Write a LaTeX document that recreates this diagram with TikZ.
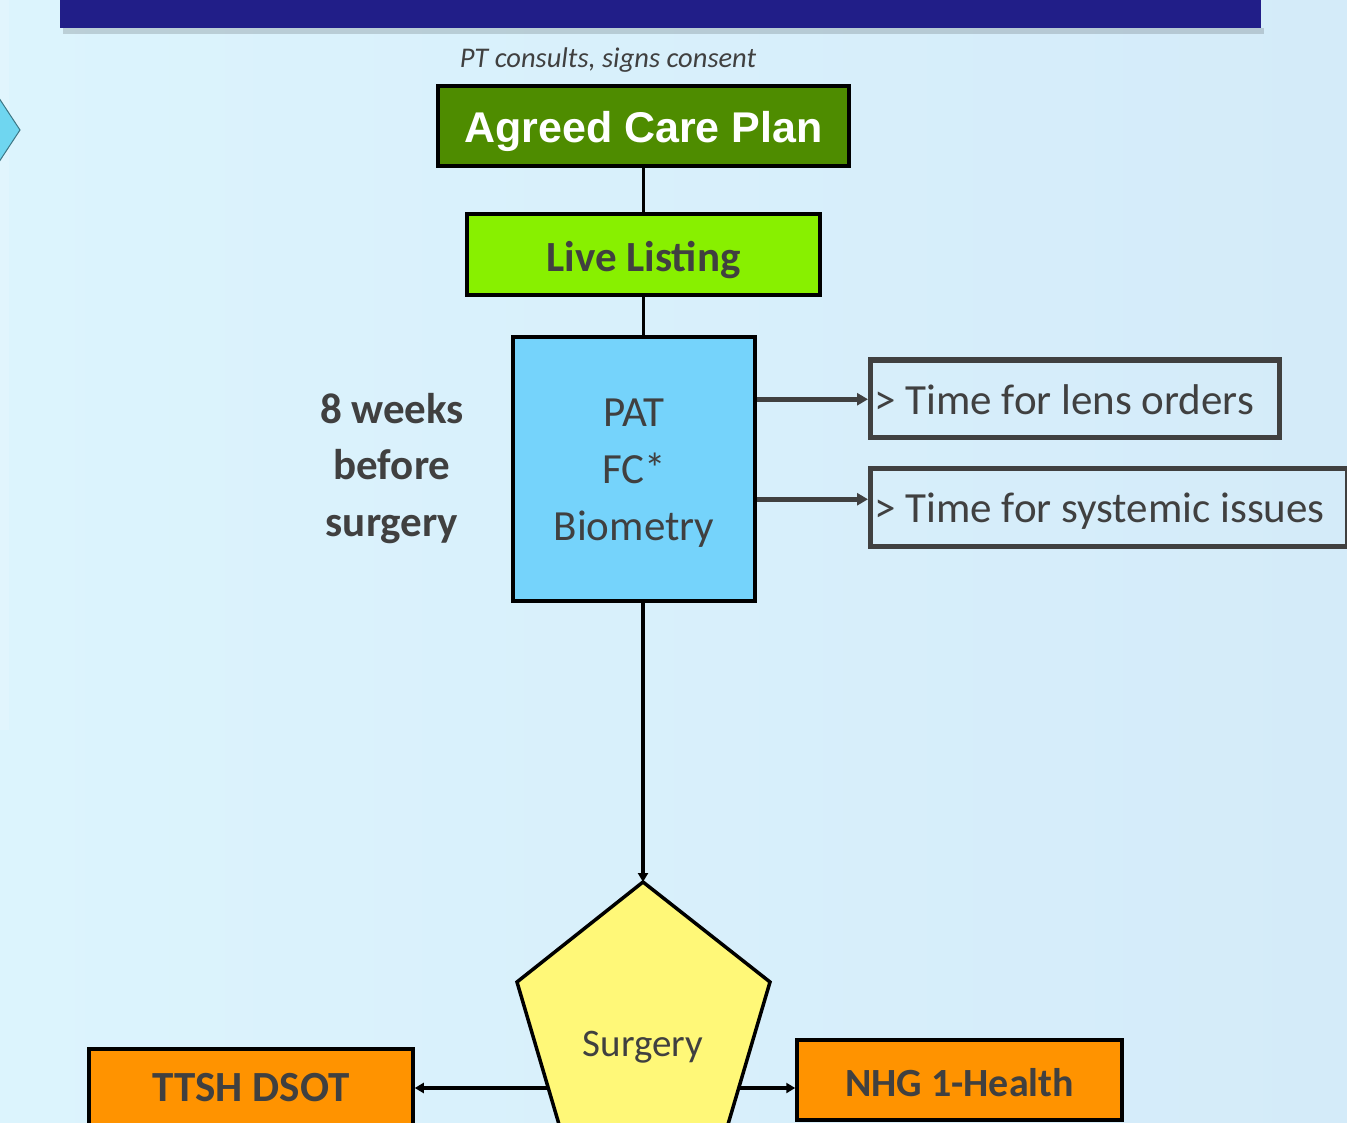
\documentclass[tikz,border=0pt]{standalone}
\usepackage{fontspec}
\setmainfont{Carlito}
\newfontfamily\arialfont{Liberation Sans}
\usetikzlibrary{arrows.meta,calc}
\definecolor{bgl}{HTML}{DCF4FD}
\definecolor{bgr}{HTML}{D4EBF9}
\definecolor{navy}{HTML}{211E88}
\definecolor{dgreen}{HTML}{4E8C00}
\definecolor{lgreen}{HTML}{88F000}
\definecolor{skyb}{HTML}{75D3FB}
\definecolor{yel}{HTML}{FFF878}
\definecolor{orng}{HTML}{FF9300}
\definecolor{txt}{HTML}{404040}
\definecolor{cyanchev}{HTML}{6FD6F0}
\tikzset{
  box/.style={draw=black, line width=3.5pt, inner sep=0pt, text=txt},
  outline/.style={draw=txt, line width=5pt, inner sep=0pt, anchor=west, text=txt,
    font=\fontsize{43}{52}\selectfont, text height=31pt, text depth=0pt},
  lbl/.style={text=txt, inner sep=0pt},
  link/.style={draw=black, line width=3pt},
  blk/.style={draw=black, line width=3.5pt, -{Triangle[length=9pt,width=10pt]}},
  gry/.style={draw=txt, line width=4.5pt, -{Triangle[length=11pt,width=12pt]}},
}
\begin{document}
\begin{tikzpicture}[x=1pt,y=-1pt]
\useasboundingbox (0,0) rectangle (1347,1123);
\clip (0,0) rectangle (1347,1123);
% background
\shade[left color=bgl, right color=bgr] (0,0) rectangle (1347,1123);
\fill[white, opacity=0.15] (0,0) rectangle (9,730);
% top bar
\fill[black, opacity=0.15] (63,28) rectangle (1264,34);
\fill[navy] (60,-5) rectangle (1261,28);
% left chevron
\filldraw[fill=cyanchev, draw=cyanchev!55!black, line width=1pt] (-5,92) -- (20,130) -- (-5,168) -- cycle;

% nodes
\node[lbl, font=\itshape\fontsize{28.5}{34}\selectfont] (pt) at (608,60) {PT consults, signs consent};
\node[box, fill=dgreen, minimum width=411pt, minimum height=80pt, text=white,
  text height=33pt, text depth=0pt,
  font=\arialfont\bfseries\fontsize{43}{50}\selectfont] (acp) at (643.5,126) {Agreed Care Plan};
\node[box, fill=lgreen, minimum width=353pt, minimum height=81pt,
  text height=34pt, text depth=0pt,
  font=\bfseries\fontsize{43}{50}\selectfont] (live) at (643.5,254.5) {Live Listing};
\node[box, fill=skyb, minimum width=242pt, minimum height=264pt, align=center,
  text height=152pt, text depth=9pt,
  font=\fontsize{43}{57}\selectfont] (pat) at (634,469) {PAT\\FC*\\Biometry};
\node[lbl, align=center, text height=148pt, text depth=10pt,
  font=\bfseries\fontsize{43}{56.5}\selectfont] (weeks) at (392,467) {8 weeks\\before\\surgery};
\node[outline, minimum height=77pt] (lens) at (868,398.5) {\makebox[409pt][l]{\hspace{4pt}> Time for lens orders}};
\node[outline, minimum height=78pt] (sys) at (868,507) {\makebox[477pt][l]{\hspace{4pt}> Time for systemic issues}};

% pentagon (Surgery)
\coordinate (apex) at (643,882);
\coordinate (pl) at (517,982);
\coordinate (pr) at (770,982);
\filldraw[fill=yel, draw=black, line width=3.5pt, line join=miter]
  (apex) -- (pr) -- (716,1165) -- (571,1165) -- (pl) -- cycle;
\node[lbl, text height=23pt, text depth=0pt, font=\fontsize{39}{46}\selectfont] (surg) at (643,1045) {Surgery};
\coordinate (sl) at (549,1088);
\coordinate (sr) at (738,1088);

\node[box, fill=orng, minimum width=324pt, minimum height=81pt,
  text height=24pt, text depth=0pt,
  font=\bfseries\fontsize{43}{50}\selectfont] (ttsh) at (251,1089.5) {TTSH DSOT};
\node[box, fill=orng, minimum width=325pt, minimum height=80pt,
  text height=32pt, text depth=0pt,
  font=\bfseries\fontsize{40}{48}\selectfont] (nhg) at (959.5,1080) {NHG 1-Health};

% connectors
\draw[link] (acp.south) -- (live.north);
\draw[link] (live.south) -- (live.south |- pat.north);
\draw[blk] (pat.south -| apex) -- (apex);
\draw[gry] ([yshift=-64pt]pat.north east) -- ([yshift=-64pt]pat.north east -| lens.west);
\draw[gry] ([yshift=-164pt]pat.north east) -- ([yshift=-164pt]pat.north east -| sys.west);
\draw[blk] (sl) -- (ttsh.east |- sl);
\draw[blk] (sr) -- (nhg.west |- sr);
\end{tikzpicture}
\end{document}
